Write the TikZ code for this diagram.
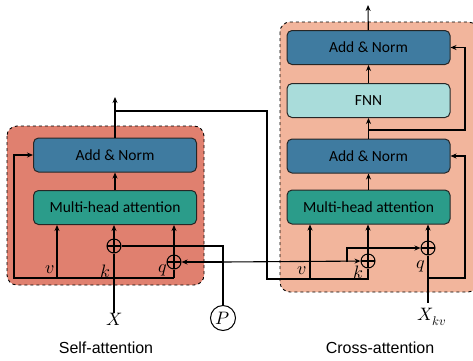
\documentclass[tikz,border=0pt]{standalone}
\usepackage{fontspec}
\usepackage{unicode-math}
\setmainfont{Carlito}
\setmathfont{Latin Modern Math}
\newfontfamily\captionfont{Liberation Sans}
\usetikzlibrary{arrows.meta}

\definecolor{selfbg}{HTML}{E0806F}
\definecolor{crossbg}{HTML}{F2B59C}
\definecolor{normblue}{HTML}{3F7BA0}
\definecolor{attteal}{HTML}{2B9C8A}
\definecolor{fnncyan}{HTML}{A9DCDA}

\tikzset{
    block/.style={draw=black!85,line width=1pt,rounded corners=5pt,
        minimum width=163pt,minimum height=34pt,inner sep=0pt,
        font=\fontsize{15.5}{18}\selectfont},
    panel/.style={draw,dashed,line width=0.9pt,rounded corners=10pt},
    addop/.style={draw,circle,line width=1pt,minimum size=14pt,inner sep=0pt,
        path picture={\draw[line width=1.1pt]
            (path picture bounding box.north) -- (path picture bounding box.south)
            (path picture bounding box.west) -- (path picture bounding box.east);}},
    wire/.style={line width=1.1pt},
    feed/.style={wire,-{Stealth[length=6pt,width=5pt]}},
    sym/.style={font=\fontsize{18}{20}\selectfont,inner sep=0pt},
}

\begin{document}
\begin{tikzpicture}[x=1pt,y=-1pt]
    \useasboundingbox (0,0) rectangle (473,360);

    % panels
    \filldraw[panel,fill=selfbg]  (7,126) rectangle (204,285);
    \filldraw[panel,fill=crossbg] (280,22) rectangle (478,292);

    % self-attention
    \node[block,fill=normblue] (sanorm) at (115,155)   {Add \& Norm};
    \node[block,fill=attteal]  (samha)  at (115,207.5) {Multi-head attention};
    \node[addop] (skplus) at (114,246) {};
    \node[addop] (sqplus) at (174,262) {};
    \node[sym] (sx) at (114,319) {$X$};
    \node[sym,draw,circle,line width=1pt,minimum size=25pt] (pos) at (223,318) {$P$};

    % cross-attention
    \node[block,fill=normblue] (cnormb) at (368.5,47.5) {Add \& Norm};
    \node[block,fill=fnncyan]  (fnn)    at (368.5,100.5) {FNN};
    \node[block,fill=normblue] (cnorma) at (368.5,156)  {Add \& Norm};
    \node[block,fill=attteal]  (cmha)   at (368.5,207)  {Multi-head attention};
    \node[addop] (ckplus) at (368,261) {};
    \node[addop] (cqplus) at (428,248) {};
    \node[sym] (cx) at (432,317) {$X_{kv}$};

    \coordinate (sbl)  at (14,278);
    \coordinate (sout) at (115,97);
    \coordinate (cout) at (368,5);
    \coordinate (tap)  at (223,262);
    \coordinate (fork) at (347,262);
    \coordinate (cbl)  at (267,279);

    % self-attention wiring
    \draw[wire] (skplus) -- (sx.north -| skplus);
    \draw[feed] (skplus) -- (samha.south -| skplus);
    \draw[feed] (sqplus) -- (samha.south -| sqplus);
    \draw[feed] (samha) -- (sanorm);
    \draw[feed] (sbl -| sqplus) -- (sbl) |- (sanorm.west);
    \draw[wire] (sqplus) -- (sbl -| sqplus);
    \draw[feed] (57,278) -- (samha.south -| 57,0);
    \draw[feed] (sanorm) -- (sout);
    \draw[wire] (sanorm.north |- 0,111) -| (cbl) -| (ckplus);

    % position encoding
    \draw[wire] (pos) |- (skplus);
    \draw[feed] (tap) -- (sqplus);
    \draw[feed] (tap) -- (ckplus);
    \draw[feed] (fork) |- (cqplus);

    % cross-attention wiring
    \draw[feed] (310,279) -- (cmha.south -| 310,0);
    \draw[feed] (ckplus) -- (cmha.south -| ckplus);
    \draw[feed] (cqplus) -- (cmha.south -| cqplus);
    \draw[wire] (cqplus) -- (cqplus |- 0,303);
    \draw[feed] (428,278) -| (465,200) |- (cnorma.east);
    \draw[feed] (cmha) -- (cnorma);
    \draw[feed] (cnorma) -- (fnn);
    \draw[feed] (fnn) -- (cnormb);
    \draw[feed] (368,130) -| (465,90) |- (cnormb.east);
    \draw[feed] (cnormb) -- (cout);

    \begin{scope}[every node/.style={sym}]
        \node (sv) at (50,270) {$v$};
        \node (sk) at (105,271) {$k$};
        \node (sq) at (163,270) {$q$};
        \node (cv) at (302,271) {$v$};
        \node (ck) at (358,272) {$k$};
        \node (cq) at (421,266) {$q$};
    \end{scope}

    \node[font=\captionfont\fontsize{16}{18}\selectfont] (stitle) at (106,348) {Self-attention};
    \node[font=\captionfont\fontsize{16}{18}\selectfont] (ctitle) at (380,348) {Cross-attention};
\end{tikzpicture}
\end{document}
